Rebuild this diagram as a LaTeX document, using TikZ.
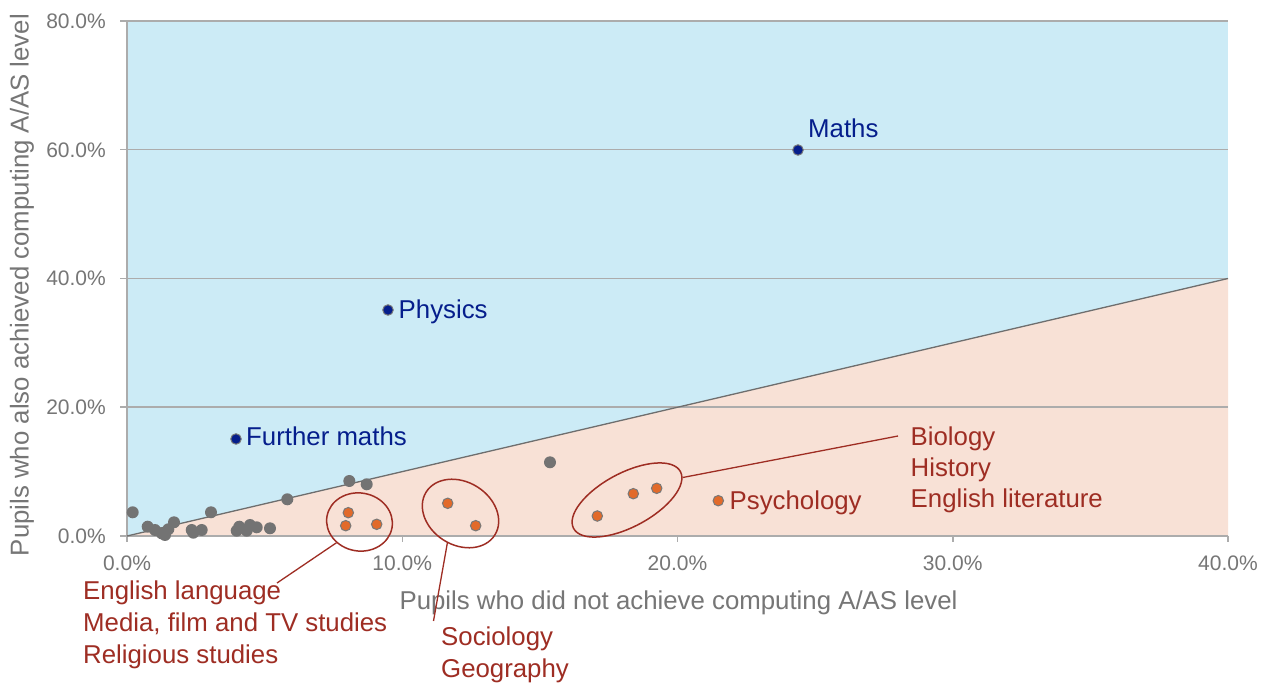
\documentclass[tikz,border=0pt]{standalone}
\usepackage{fontspec}
\setmainfont{Liberation Sans}
\usetikzlibrary{shapes.geometric}
\definecolor{bgblue}{RGB}{204,235,246}
\definecolor{bgpeach}{RGB}{248,225,214}
\definecolor{gridgray}{RGB}{172,172,172}
\definecolor{diaggray}{RGB}{110,110,110}
\definecolor{ptgray}{RGB}{115,115,115}
\definecolor{ptorange}{RGB}{226,106,42}
\definecolor{ptblue}{RGB}{5,30,140}
\definecolor{edgegray}{RGB}{120,120,120}
\definecolor{lblblue}{RGB}{12,38,140}
\definecolor{lblred}{RGB}{158,45,35}
\definecolor{txtgray}{RGB}{118,118,118}
\begin{document}
\begin{tikzpicture}[x=1pt,y=-1pt,
  gpt/.style={circle,fill=ptgray,inner sep=0pt,minimum size=12pt},
  opt/.style={circle,fill=ptorange,draw=edgegray,line width=1pt,inner sep=0pt,minimum size=10.5pt},
  bpt/.style={circle,fill=ptblue,draw=edgegray,line width=1pt,inner sep=0pt,minimum size=10.5pt},
  ring/.style={ellipse,draw=lblred,line width=1.5pt,inner sep=0pt},
  lead/.style={draw=lblred,line width=1.3pt},
  redlbl/.style={text=lblred,font=\fontsize{25.8}{30}\selectfont,inner sep=0pt,anchor=base west},
  bluelbl/.style={text=ptblue,font=\fontsize{25.8}{30}\selectfont,inner sep=0pt,anchor=base west},
  ticklbl/.style={text=txtgray,font=\fontsize{21}{25}\selectfont,inner sep=0pt},
  axtitle/.style={text=txtgray,font=\fontsize{25.8}{30}\selectfont,inner sep=0pt,anchor=base},
  gridln/.style={draw=gridgray,line width=1.5pt}]
\useasboundingbox (0,0) rectangle (1270,684);
\fill[white] (0,0) rectangle (1270,684);
% plot regions
\fill[bgblue] (127,21) rectangle (1228,536);
\fill[bgpeach] (127,536) -- (1228,278.5) -- (1228,536) -- cycle;
% grid and axes
\foreach \yy in {21,149.75,278.5,407.25}{\draw[gridln] (120,\yy) -- (1228,\yy);}
\draw[gridln] (127,21) -- (127,536);
\draw[gridln] (120,536) -- (1228,536);
\foreach \xx in {127,402.25,677.5,952.75,1228}{\draw[gridln] (\xx,536) -- (\xx,542);}
\draw[draw=diaggray,line width=1.3pt] (127,536) -- (1228,278.5);
% tick labels
\node[ticklbl,anchor=base east] (y80) at (106,28.5) {80.0\%};
\node[ticklbl,anchor=base east] (y60) at (106,157.25) {60.0\%};
\node[ticklbl,anchor=base east] (y40) at (106,286) {40.0\%};
\node[ticklbl,anchor=base east] (y20) at (106,414.75) {20.0\%};
\node[ticklbl,anchor=base east] (y0) at (106,543.5) {0.0\%};
\node[ticklbl,anchor=base] (x0) at (127,570.5) {0.0\%};
\node[ticklbl,anchor=base] (x10) at (402.25,570.5) {10.0\%};
\node[ticklbl,anchor=base] (x20) at (677.5,570.5) {20.0\%};
\node[ticklbl,anchor=base] (x30) at (952.75,570.5) {30.0\%};
\node[ticklbl,anchor=base] (x40) at (1228,570.5) {40.0\%};
% axis titles
\node[axtitle] (xtitle) at (678.5,609) {Pupils who did not achieve computing A/AS level};
\node[axtitle,rotate=90] (ytitle) at (28.5,285) {Pupils who also achieved computing A/AS level};
% gray points
\foreach \px/\py [count=\i] in {132.7/512.3,147.7/526.7,155/530,161.7/533.3,165/535,168.3/529.3,174/522.3,191.7/530,193.3/532.7,201.7/530,211/512.3,236.7/530.7,239.3/526.7,246.7/530.7,250/525,256.7/527.3,270/528.3,287.3/499.3,349.3/481,366.7/484.3,550/462.3}{\node[gpt] (g\i) at (\px,\py) {};}
% ellipses
\node[ring,minimum width=66pt,minimum height=58pt,rotate=-10] (e1) at (359.5,522) {};
\node[ring,minimum width=81pt,minimum height=63pt,rotate=-32] (e2) at (460.5,513.5) {};
\node[ring,minimum width=121pt,minimum height=54pt,rotate=28] (e3) at (627,500) {};
% orange points
\node[opt] (o1) at (348.3,512.7) {};
\node[opt] (o2) at (345.7,525.7) {};
\node[opt] (o3) at (376.7,524.3) {};
\node[opt] (o4) at (447.7,503.3) {};
\node[opt] (o5) at (475.7,525.7) {};
\node[opt] (o6) at (597.3,516) {};
\node[opt] (o7) at (633.3,493.7) {};
\node[opt] (o8) at (656.7,488.3) {};
\node[opt] (psy) at (718.3,500.7) {};
% blue points
\node[bpt] (maths) at (798,150) {};
\node[bpt] (phys) at (388,310) {};
\node[bpt] (fmaths) at (236,439) {};
% labels
\node[bluelbl] (lmaths) at (808,138) {Maths};
\node[bluelbl] (lphys) at (398.5,319) {Physics};
\node[bluelbl] (lfmaths) at (246,446) {Further maths};
\node[redlbl] (lpsy) at (729.5,510) {Psychology};
\node[redlbl] (lbio) at (910.5,446) {Biology};
\node[redlbl] (lhist) at (910.5,477) {History};
\node[redlbl] (llit) at (910.5,508) {English literature};
\node[redlbl] (leng) at (83,599) {English language};
\node[redlbl] (lmedia) at (83,631) {Media, film and TV studies};
\node[redlbl] (lrel) at (83,663) {Religious studies};
\node[redlbl] (lsoc) at (441,645) {Sociology};
\node[redlbl] (lgeo) at (441,677) {Geography};
% leader lines
\coordinate (c1) at (277,583);
\coordinate (c2) at (433.5,621);
\coordinate (c3) at (898,436);
\draw[lead] (e1.-128) -- (c1);
\draw[lead] (e2.-82) -- (c2);
\draw[lead] (e3.-6) -- (c3);
\end{tikzpicture}
\end{document}
